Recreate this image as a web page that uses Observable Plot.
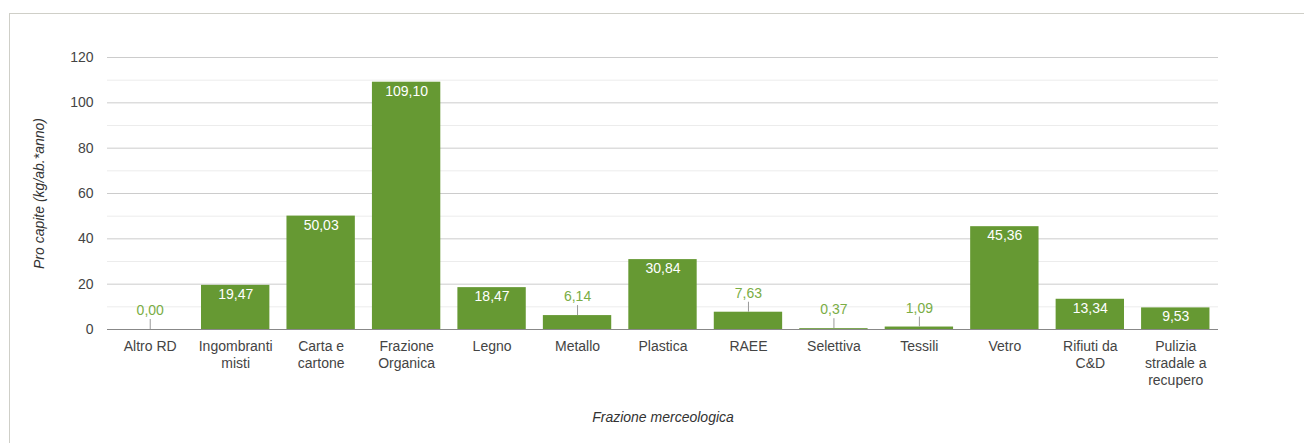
<!DOCTYPE html>
<html><head><meta charset="utf-8">
<script src="https://cdn.jsdelivr.net/npm/d3@7"></script>
<script src="https://cdn.jsdelivr.net/npm/@observablehq/plot@0.6"></script>
<style>
body{margin:0;background:#fff;}
#wrap{position:relative;width:1304px;height:443px;overflow:hidden;}
#frame{position:absolute;left:9px;top:13px;width:1400px;height:600px;border:1px solid #cfcfc8;box-sizing:border-box;pointer-events:none;}
#wrap svg{position:absolute;left:0;top:0;}
</style></head><body><div id="wrap"><div id="frame"></div></div>
<script>
const categories = ["Altro RD", "Ingombranti\nmisti", "Carta e\ncartone", "Frazione\nOrganica", "Legno", "Metallo", "Plastica", "RAEE", "Selettiva", "Tessili", "Vetro", "Rifiuti da\nC&D", "Pulizia\nstradale a\nrecupero"];
const values = [0.00, 19.47, 50.03, 109.10, 18.47, 6.14, 30.84, 7.63, 0.37, 1.09, 45.36, 13.34, 9.53];
const yTicksMajor = [0, 20, 40, 60, 80, 100, 120];
const yTicksMinor = [10, 30, 50, 70, 90, 110];
const yTitle = "Pro capite (kg/ab.*anno)";
const xTitle = "Frazione merceologica";

const data = categories.map((c, i) => ({c, v: values[i], inside: values[i] >= 9}));
const fmt = v => v.toFixed(2).replace(".", ",");

const plot = Plot.plot({
  width: 1304, height: 443,
  marginLeft: 107, marginRight: 86, marginTop: 57, marginBottom: 114,
  style: {fontFamily: "'Liberation Sans', Arial, sans-serif", fontSize: "14px", color: "#444", background: "transparent"},
  x: {domain: categories, paddingInner: 0.2, paddingOuter: 0.1, round: false, label: null},
  y: {domain: [0, 120], label: null},
  marks: [
    Plot.ruleY(yTicksMinor, {stroke: "#ececec"}),
    Plot.ruleY(yTicksMajor.filter(d => d > 0), {stroke: "#cccccc"}),
    Plot.barY(data, {x: "c", y: "v", fill: "#669933"}),
    Plot.ruleY([0], {stroke: "#888888"}),
    Plot.ruleX(data.filter(d => !d.inside), {x: "c", y1: "v", y2: d => d.v + 4.4, stroke: "#999999"}),
    Plot.text(data.filter(d => d.inside), {x: "c", y: "v", text: d => fmt(d.v), fill: "white", dy: 9, fontSize: 14}),
    Plot.text(data.filter(d => !d.inside), {x: "c", y: "v", text: d => fmt(d.v), fill: "#7aad45", dy: -19, fontSize: 14}),
    Plot.axisY({ticks: yTicksMajor, tickSize: 0, tickPadding: 14, label: null, fill: "#444"}),
    Plot.axisX({tickSize: 0, tickPadding: 10, lineHeight: 1.2, label: null, fill: "#444"}),
    Plot.text([yTitle], {text: d => d, frameAnchor: "left", textAnchor: "middle", dx: -68, rotate: -90, fontStyle: "italic", fill: "#333", fontSize: 14}),
    Plot.text([xTitle], {text: d => d, frameAnchor: "bottom", dy: 92, fontStyle: "italic", fill: "#333", fontSize: 14})
  ]
});
document.getElementById("wrap").appendChild(plot);
</script>
</body></html>
